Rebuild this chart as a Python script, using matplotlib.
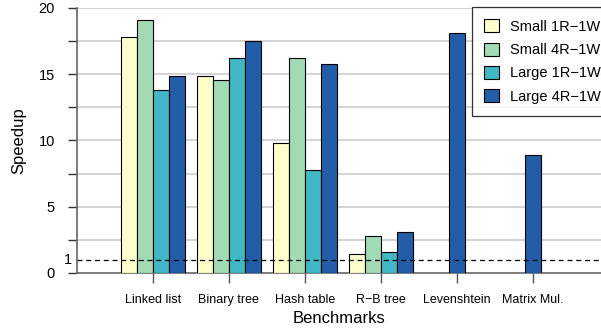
import matplotlib.pyplot as plt
import matplotlib.transforms as mtransforms
import numpy as np

plt.rcParams['font.family'] = ['Liberation Sans', 'DejaVu Sans']

# Benchmarks and speedup values per configuration (0 = not measured)
benchmarks = ["Linked list", "Binary tree", "Hash table", "R\u2212B tree", "Levenshtein", "Matrix Mul."]
series_names = ["Small 1R\u22121W", "Small 4R\u22121W", "Large 1R\u22121W", "Large 4R\u22121W"]
small_1r = [17.8, 14.9, 9.8, 1.4, 0, 0]
small_4r = [19.1, 14.6, 16.2, 2.8, 0, 0]
large_1r = [13.8, 16.2, 7.8, 1.6, 0, 0]
large_4r = [14.9, 17.5, 15.8, 3.1, 18.1, 8.9]
colors = ["#FFFFCC", "#A1DAB4", "#41B6C4", "#225EA8"]

fig = plt.figure(figsize=(6.01, 3.33), dpi=100)
ax = fig.add_axes([77 / 601, 60 / 333, 524 / 601, 265 / 333])

x = np.arange(len(benchmarks))
w = 0.21
data = np.array([small_1r, small_4r, large_1r, large_4r], dtype=float)

# bars in each group are centred on the tick, whatever their count
for j in range(len(benchmarks)):
    present = [i for i in range(len(series_names)) if data[i, j] > 0]
    n = len(present)
    for k, i in enumerate(present):
        ax.bar(x[j] + (k - (n - 1) / 2) * w, data[i, j], width=w, color=colors[i],
               edgecolor="black", linewidth=0.8, zorder=3)

handles = [plt.Rectangle((0, 0), 1, 1, facecolor=c, edgecolor="black", linewidth=0.8)
           for c in colors]

# grid lines every 2.5
for g in np.arange(2.5, 20.1, 2.5):
    ax.axhline(g, color="#cccccc", lw=1.2, zorder=0)
ax.axhline(1, color="black", lw=0.9, ls=(0, (4, 3)), zorder=4)

# the "1" baseline label sits right next to the axis
trans = mtransforms.blended_transform_factory(ax.transAxes, ax.transData)
ax.text(-0.009, 1, "1", transform=trans, ha="right", va="center", fontsize=10.5)

ax.set_xlim(-1.0, 5.9)
ax.set_ylim(0, 20)
ax.set_yticks([0, 5, 10, 15, 20])
ax.set_yticks([2.5, 7.5, 12.5, 17.5], minor=True)
ax.set_xticks(x)
ax.set_xticklabels(benchmarks, fontsize=9)
ax.tick_params(axis="y", labelsize=10.5, length=6.5, color="#333333", width=1, pad=9.5)
ax.tick_params(axis="y", which="minor", length=6.5, color="#333333", width=1)
ax.tick_params(axis="x", length=7, color="#555555", width=1, pad=8)

for s in ["top", "right"]:
    ax.spines[s].set_visible(False)
ax.spines["left"].set_color("#666666")
ax.spines["bottom"].set_color("#666666")
ax.spines["left"].set_linewidth(1.2)
ax.spines["bottom"].set_linewidth(1.2)

ax.set_ylabel("Speedup", fontsize=12, labelpad=9)
ax.set_xlabel("Benchmarks", fontsize=12, labelpad=4)

leg = ax.legend(handles, series_names, loc="upper left",
                bbox_to_anchor=((472 - 77) / 524, (333 - 7 - 60) / 265),
                fontsize=10.5, frameon=True, fancybox=False, edgecolor="black",
                handlelength=1.0, handleheight=1.0, borderpad=0.85,
                labelspacing=0.6, handletextpad=0.75, borderaxespad=0)
leg.get_frame().set_linewidth(0.9)
leg.set_zorder(5)

fig.savefig("out.png", dpi=100)
